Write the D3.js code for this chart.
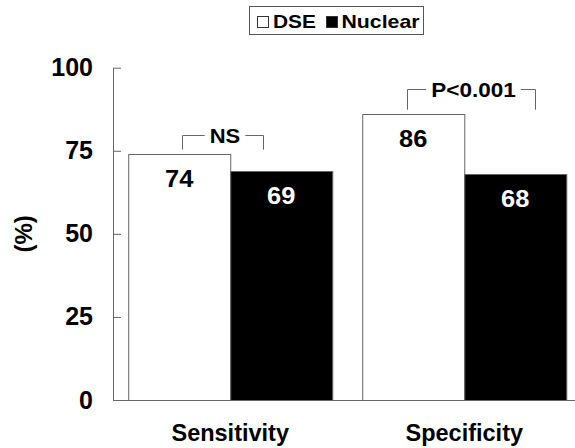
<!DOCTYPE html>
<html>
<head>
<meta charset="utf-8">
<script src="https://cdn.jsdelivr.net/npm/d3@7"></script>
<style>
  html, body { margin: 0; padding: 0; background: #fff; }
  svg { display: block; font-family: "Liberation Sans", Arial, Helvetica, sans-serif; font-weight: bold; }
</style>
</head>
<body>
<svg id="chart" width="575" height="448"></svg>
<script>
// ---- data ----
const categories = ["Sensitivity", "Specificity"];
const seriesNames = ["DSE", "Nuclear"];
const dseValues = [74, 86];
const nuclearValues = [69, 68];
const yTicks = [0, 25, 50, 75, 100];
const significance = ["NS", "P<0.001"];
const yLabel = "(%)";

// ---- layout ----
const svg = d3.select("#chart");
const W = 575, H = 448;
const lineColor = "#666";
const seriesFill = { DSE: "#ffffff", Nuclear: "#000000" };
const labelFill = { DSE: "#000000", Nuclear: "#ffffff" };

const y = d3.scaleLinear().domain([0, 100]).range([400, 67.7]);
const x0 = d3.scaleBand().domain(categories).range([113, 581.5]).paddingInner(0.128).paddingOuter(0.065);
const x1 = d3.scaleBand().domain(seriesNames).range([0, x0.bandwidth()]).padding(0);

const rows = categories.map((c, i) => ({
  cat: c,
  vals: [{ s: "DSE", v: dseValues[i] }, { s: "Nuclear", v: nuclearValues[i] }],
  sig: significance[i]
}));

// widen text horizontally to match the reference's wider face
function widen(sel, factor) {
  sel.each(function () {
    const n = this;
    const L = n.getComputedTextLength();
    d3.select(n).attr("textLength", L * factor).attr("lengthAdjust", "spacingAndGlyphs");
  });
}

// bars
const g = svg.append("g");
const groups = g.selectAll("g.grp").data(rows).join("g")
  .attr("class", "grp")
  .attr("transform", d => `translate(${x0(d.cat)},0)`);

groups.selectAll("rect").data(d => d.vals).join("rect")
  .attr("x", d => x1(d.s) + 0.5)
  .attr("y", d => Math.round(y(d.v)) + 0.5)
  .attr("width", x1.bandwidth())
  .attr("height", d => y(0) - Math.round(y(d.v)))
  .attr("fill", d => seriesFill[d.s])
  .attr("stroke", lineColor)
  .attr("stroke-width", 1);

// value labels
const vals = groups.selectAll("text.val").data(d => d.vals).join("text")
  .attr("class", "val")
  .attr("x", d => x1(d.s) + x1.bandwidth() / 2)
  .attr("y", d => y(d.v) + 33)
  .attr("text-anchor", "middle")
  .attr("font-size", 24)
  .attr("fill", d => labelFill[d.s])
  .text(d => d.v);
widen(vals, 1.06);

// y axis (ticks pointing inward)
const yAxis = d3.axisLeft(y).tickValues(yTicks).tickSizeInner(-8).tickSizeOuter(0).tickPadding(20);
const ax = svg.append("g").attr("transform", "translate(113,0)").call(yAxis);
ax.select(".domain").attr("stroke", lineColor);
ax.selectAll(".tick line").attr("stroke", lineColor);
ax.selectAll(".tick text")
  .attr("font-size", 25)
  .attr("font-family", "Liberation Sans, Arial, sans-serif")
  .attr("font-weight", "bold")
  .attr("fill", "#000");

// baseline
svg.append("line")
  .attr("x1", 113).attr("x2", W)
  .attr("y1", y(0) + 0.5).attr("y2", y(0) + 0.5)
  .attr("stroke", lineColor);

// y label
svg.append("text")
  .attr("transform", `translate(32,${y(50)}) rotate(-90)`)
  .attr("text-anchor", "middle")
  .attr("font-size", 24)
  .text(yLabel);

// x category labels
svg.selectAll("text.cat").data(categories).join("text")
  .attr("class", "cat")
  .attr("x", d => x0(d) + x0.bandwidth() / 2)
  .attr("y", 441)
  .attr("text-anchor", "middle")
  .attr("font-size", 23.5)
  .text(d => d);

// significance brackets
const bracketStyle = {
  Sensitivity: { l: 0.262, r: 0.659, rise: 19.5, size: 20, widen: 1.1 },
  Specificity: { l: 0.221, r: 0.847, rise: 25, size: 20.5, widen: 1.1 }
};
rows.forEach(d => {
  const st = bracketStyle[d.cat];
  const bx = x0(d.cat);
  const bw = x0.bandwidth();
  const xl = Math.round(bx + st.l * bw) + 0.5;
  const xr = Math.round(bx + st.r * bw) + 0.5;
  const topY = y(d3.max(d.vals, v => v.v));
  const hy = Math.round(topY - st.rise) + 0.5;
  const dropY = topY - 4.5;
  const cx = (xl + xr) / 2;
  const t = svg.append("text")
    .attr("x", cx + 2)
    .attr("y", hy + 0.36 * st.size)
    .attr("text-anchor", "middle")
    .attr("font-size", st.size)
    .text(d.sig);
  widen(t, st.widen);
  const tl = +t.attr("textLength");
  const gap = 5;
  const bgp = svg.append("g").attr("stroke", lineColor).attr("fill", "none");
  bgp.append("path").attr("d", `M${xl},${dropY}V${hy}H${cx + 2 - tl / 2 - gap}`);
  bgp.append("path").attr("d", `M${cx + 2 + tl / 2 + gap},${hy}H${xr}V${dropY}`);
});

// legend
const leg = svg.append("g");
leg.append("rect")
  .attr("x", 249.5).attr("y", 6.5).attr("width", 174).attr("height", 28)
  .attr("fill", "#fff").attr("stroke", "#555");
const legItems = [
  { s: "DSE", sx: 257, tx: 273, w: 43 },
  { s: "Nuclear", sx: 326, tx: 341.5, w: 78 }
];
legItems.forEach(it => {
  leg.append("rect")
    .attr("x", it.sx + 0.5).attr("y", 16.5).attr("width", 11).attr("height", 11)
    .attr("fill", seriesFill[it.s]).attr("stroke", "#333");
  leg.append("text")
    .attr("x", it.tx).attr("y", 27.5)
    .attr("font-size", 18.5)
    .attr("textLength", it.w)
    .attr("lengthAdjust", "spacingAndGlyphs")
    .text(it.s);
});
</script>
</body>
</html>
